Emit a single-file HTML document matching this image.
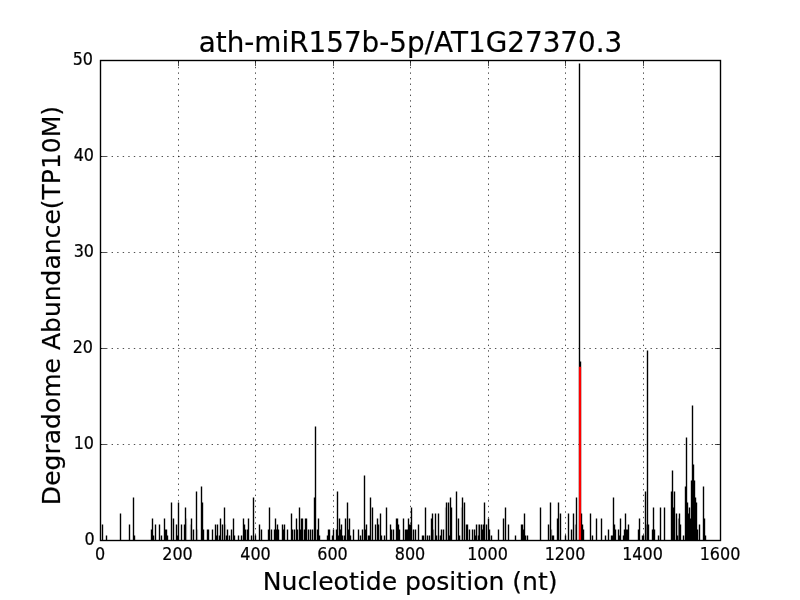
<!DOCTYPE html>
<html><head><meta charset="utf-8"><title>ath-miR157b-5p/AT1G27370.3</title>
<style>
html,body{margin:0;padding:0;background:#fff;}
body{width:800px;height:600px;overflow:hidden;}
svg{display:block;}
text{font-family:"DejaVu Sans","Liberation Sans",sans-serif;fill:#000;stroke:#000;stroke-width:0.2px;}
</style></head><body>
<svg width="800" height="600" viewBox="0 0 800 600">
<rect width="800" height="600" fill="#fff"/>
<path d="M178.5 540.5V60.5M255.5 540.5V60.5M333.5 540.5V60.5M410.5 540.5V60.5M488.5 540.5V60.5M565.5 540.5V60.5M643.5 540.5V60.5M100.5 444.5H720.5M100.5 348.5H720.5M100.5 252.5H720.5M100.5 156.5H720.5" stroke="#000" stroke-width="0.69" stroke-dasharray="1.389 4.1667" fill="none"/>
<path d="M186.5 540.5V518.5M190.5 540.5V524.5M197.5 540.5V529.5M225.5 540.5V524.5M445.5 540.5V507.5M461.5 540.5V507.5" stroke="#000" stroke-opacity="0.22" stroke-width="1.39" fill="none"/>
<path d="M551.5 540.5V529.5M575.5 540.5V524.5M678.5 540.5V518.5M433.5 540.5V529.5M478.5 540.5V524.5M646.5 540.5V524.5" stroke="#000" stroke-opacity="0.45" stroke-width="1.39" fill="none"/>
<path d="M102.5 540.5V524.5M106.5 540.5V535.5M120.5 540.5V513.5M129.5 540.5V524.5M133.5 540.5V497.5M134.5 540.5V535.5M151.5 540.5V529.5M152.5 540.5V518.5M153.5 540.5V535.5M155.5 540.5V524.5M159.5 540.5V524.5M161.5 540.5V535.5M164.5 540.5V518.5M165.5 540.5V529.5M166.5 540.5V529.5M167.5 540.5V535.5M171.5 540.5V502.5M173.5 540.5V518.5M176.5 540.5V524.5M177.5 540.5V535.5M178.5 540.5V502.5M181.5 540.5V524.5M184.5 540.5V524.5M185.5 540.5V507.5M191.5 540.5V518.5M193.5 540.5V529.5M196.5 540.5V491.5M201.5 540.5V486.5M202.5 540.5V502.5M203.5 540.5V529.5M207.5 540.5V529.5M208.5 540.5V529.5M212.5 540.5V529.5M215.5 540.5V524.5M216.5 540.5V535.5M217.5 540.5V524.5M219.5 540.5V535.5M220.5 540.5V518.5M222.5 540.5V524.5M224.5 540.5V507.5M226.5 540.5V535.5M227.5 540.5V529.5M229.5 540.5V535.5M231.5 540.5V529.5M233.5 540.5V518.5M234.5 540.5V535.5M238.5 540.5V535.5M241.5 540.5V535.5M243.5 540.5V518.5M244.5 540.5V524.5M245.5 540.5V529.5M247.5 540.5V529.5M248.5 540.5V518.5M251.5 540.5V535.5M253.5 540.5V497.5M255.5 540.5V535.5M259.5 540.5V524.5M261.5 540.5V529.5M268.5 540.5V529.5M269.5 540.5V507.5M271.5 540.5V529.5M274.5 540.5V529.5M275.5 540.5V518.5M276.5 540.5V529.5M277.5 540.5V524.5M278.5 540.5V529.5M282.5 540.5V524.5M283.5 540.5V529.5M284.5 540.5V524.5M287.5 540.5V529.5M291.5 540.5V513.5M292.5 540.5V529.5M294.5 540.5V529.5M296.5 540.5V518.5M297.5 540.5V529.5M299.5 540.5V507.5M300.5 540.5V529.5M301.5 540.5V518.5M302.5 540.5V518.5M304.5 540.5V529.5M305.5 540.5V518.5M306.5 540.5V518.5M308.5 540.5V529.5M310.5 540.5V529.5M312.5 540.5V529.5M314.5 540.5V497.5M315.5 540.5V426.5M317.5 540.5V529.5M318.5 540.5V518.5M319.5 540.5V535.5M327.5 540.5V535.5M328.5 540.5V529.5M329.5 540.5V529.5M332.5 540.5V535.5M333.5 540.5V529.5M336.5 540.5V529.5M337.5 540.5V491.5M338.5 540.5V535.5M339.5 540.5V518.5M340.5 540.5V529.5M341.5 540.5V524.5M342.5 540.5V535.5M344.5 540.5V535.5M345.5 540.5V518.5M347.5 540.5V502.5M348.5 540.5V529.5M349.5 540.5V518.5M350.5 540.5V535.5M353.5 540.5V529.5M358.5 540.5V529.5M360.5 540.5V535.5M362.5 540.5V529.5M364.5 540.5V475.5M365.5 540.5V529.5M366.5 540.5V524.5M368.5 540.5V535.5M369.5 540.5V535.5M370.5 540.5V497.5M372.5 540.5V507.5M375.5 540.5V524.5M377.5 540.5V518.5M378.5 540.5V524.5M380.5 540.5V513.5M381.5 540.5V535.5M384.5 540.5V535.5M386.5 540.5V507.5M390.5 540.5V524.5M391.5 540.5V529.5M393.5 540.5V529.5M396.5 540.5V518.5M397.5 540.5V518.5M398.5 540.5V524.5M399.5 540.5V529.5M403.5 540.5V518.5M405.5 540.5V529.5M406.5 540.5V529.5M407.5 540.5V529.5M408.5 540.5V518.5M409.5 540.5V524.5M410.5 540.5V524.5M411.5 540.5V507.5M413.5 540.5V529.5M415.5 540.5V529.5M418.5 540.5V524.5M422.5 540.5V535.5M423.5 540.5V535.5M425.5 540.5V507.5M427.5 540.5V535.5M429.5 540.5V535.5M431.5 540.5V518.5M432.5 540.5V513.5M435.5 540.5V513.5M436.5 540.5V535.5M438.5 540.5V513.5M440.5 540.5V535.5M441.5 540.5V529.5M443.5 540.5V529.5M446.5 540.5V502.5M448.5 540.5V502.5M449.5 540.5V535.5M450.5 540.5V497.5M451.5 540.5V507.5M456.5 540.5V491.5M458.5 540.5V518.5M459.5 540.5V535.5M462.5 540.5V497.5M464.5 540.5V502.5M466.5 540.5V524.5M467.5 540.5V524.5M469.5 540.5V529.5M472.5 540.5V529.5M474.5 540.5V529.5M475.5 540.5V535.5M476.5 540.5V524.5M478.5 540.5V535.5M479.5 540.5V524.5M481.5 540.5V524.5M482.5 540.5V529.5M483.5 540.5V524.5M484.5 540.5V502.5M486.5 540.5V524.5M488.5 540.5V518.5M489.5 540.5V529.5M491.5 540.5V535.5M498.5 540.5V529.5M503.5 540.5V518.5M505.5 540.5V507.5M508.5 540.5V524.5M515.5 540.5V535.5M521.5 540.5V524.5M522.5 540.5V524.5M523.5 540.5V529.5M524.5 540.5V513.5M525.5 540.5V535.5M527.5 540.5V535.5M540.5 540.5V507.5M548.5 540.5V524.5M550.5 540.5V502.5M552.5 540.5V535.5M553.5 540.5V535.5M557.5 540.5V518.5M558.5 540.5V502.5M560.5 540.5V513.5M565.5 540.5V535.5M568.5 540.5V513.5M571.5 540.5V529.5M573.5 540.5V513.5M576.5 540.5V497.5M579.5 540.5V63.5M580.5 540.5V361.5M581.5 540.5V513.5M582.5 540.5V524.5M583.5 540.5V529.5M590.5 540.5V513.5M592.5 540.5V535.5M596.5 540.5V518.5M601.5 540.5V518.5M605.5 540.5V535.5M608.5 540.5V529.5M611.5 540.5V535.5M612.5 540.5V535.5M613.5 540.5V497.5M614.5 540.5V524.5M615.5 540.5V529.5M618.5 540.5V529.5M619.5 540.5V535.5M620.5 540.5V518.5M623.5 540.5V535.5M624.5 540.5V529.5M625.5 540.5V513.5M626.5 540.5V529.5M627.5 540.5V529.5M628.5 540.5V524.5M638.5 540.5V529.5M639.5 540.5V518.5M642.5 540.5V535.5M643.5 540.5V535.5M645.5 540.5V491.5M647.5 540.5V350.5M648.5 540.5V524.5M652.5 540.5V529.5M653.5 540.5V507.5M654.5 540.5V529.5M658.5 540.5V535.5M660.5 540.5V507.5M664.5 540.5V507.5M671.5 540.5V491.5M672.5 540.5V470.5M673.5 540.5V507.5M674.5 540.5V491.5M676.5 540.5V513.5M677.5 540.5V535.5M679.5 540.5V513.5M680.5 540.5V524.5M683.5 540.5V535.5M685.5 540.5V486.5M686.5 540.5V437.5M687.5 540.5V502.5M688.5 540.5V513.5M689.5 540.5V507.5M690.5 540.5V518.5M691.5 540.5V480.5M692.5 540.5V405.5M693.5 540.5V464.5M694.5 540.5V480.5M695.5 540.5V497.5M696.5 540.5V502.5M697.5 540.5V529.5M699.5 540.5V524.5M703.5 540.5V486.5M704.5 540.5V518.5M705.5 540.5V535.5" stroke="#000" stroke-width="1.39" fill="none"/>
<path d="M580 540.5V366.75" stroke="#f00" stroke-width="2.2" fill="none"/>
<path d="M100.5 540.5v-5.56M100.5 60.5v5.56M178.5 540.5v-5.56M178.5 60.5v5.56M255.5 540.5v-5.56M255.5 60.5v5.56M333.5 540.5v-5.56M333.5 60.5v5.56M410.5 540.5v-5.56M410.5 60.5v5.56M488.5 540.5v-5.56M488.5 60.5v5.56M565.5 540.5v-5.56M565.5 60.5v5.56M643.5 540.5v-5.56M643.5 60.5v5.56M720.5 540.5v-5.56M720.5 60.5v5.56M100.5 540.5h5.56M720.5 540.5h-5.56M100.5 444.5h5.56M720.5 444.5h-5.56M100.5 348.5h5.56M720.5 348.5h-5.56M100.5 252.5h5.56M720.5 252.5h-5.56M100.5 156.5h5.56M720.5 156.5h-5.56M100.5 60.5h5.56M720.5 60.5h-5.56" stroke="#000" stroke-width="0.69" fill="none"/>
<rect x="100.5" y="60.5" width="620" height="480" fill="none" stroke="#000" stroke-width="1.39"/>
<g font-size="16.67px">
<text transform="translate(100,560.3) scale(0.96,1.075)" text-anchor="middle">0</text><text transform="translate(177.5,560.3) scale(0.96,1.075)" text-anchor="middle">200</text><text transform="translate(255.5,560.3) scale(0.96,1.075)" text-anchor="middle">400</text><text transform="translate(332.5,560.3) scale(0.96,1.075)" text-anchor="middle">600</text><text transform="translate(410,560.3) scale(0.96,1.075)" text-anchor="middle">800</text><text transform="translate(487.5,560.3) scale(0.96,1.075)" text-anchor="middle">1000</text><text transform="translate(565,560.3) scale(0.96,1.075)" text-anchor="middle">1200</text><text transform="translate(642.5,560.3) scale(0.96,1.075)" text-anchor="middle">1400</text><text transform="translate(720,560.3) scale(0.96,1.075)" text-anchor="middle">1600</text>
<text transform="translate(94.6,545.4) scale(0.96,1.075)" text-anchor="end">0</text><text transform="translate(94,449.4) scale(0.96,1.075)" text-anchor="end">10</text><text transform="translate(93,353.4) scale(0.96,1.075)" text-anchor="end">20</text><text transform="translate(94,257.4) scale(0.96,1.075)" text-anchor="end">30</text><text transform="translate(94,161.4) scale(0.96,1.075)" text-anchor="end">40</text><text transform="translate(93,65.4) scale(0.96,1.075)" text-anchor="end">50</text>
</g>
<text x="410.5" y="52" font-size="27.83px" text-anchor="middle">ath-miR157b-5p/AT1G27370.3</text>
<text x="410.2" y="589.7" font-size="25.08px" text-anchor="middle">Nucleotide position (nt)</text>
<text transform="translate(60,305.5) rotate(-90)" font-size="25.02px" text-anchor="middle">Degradome Abundance(TP10M)</text>
</svg>
</body></html>
